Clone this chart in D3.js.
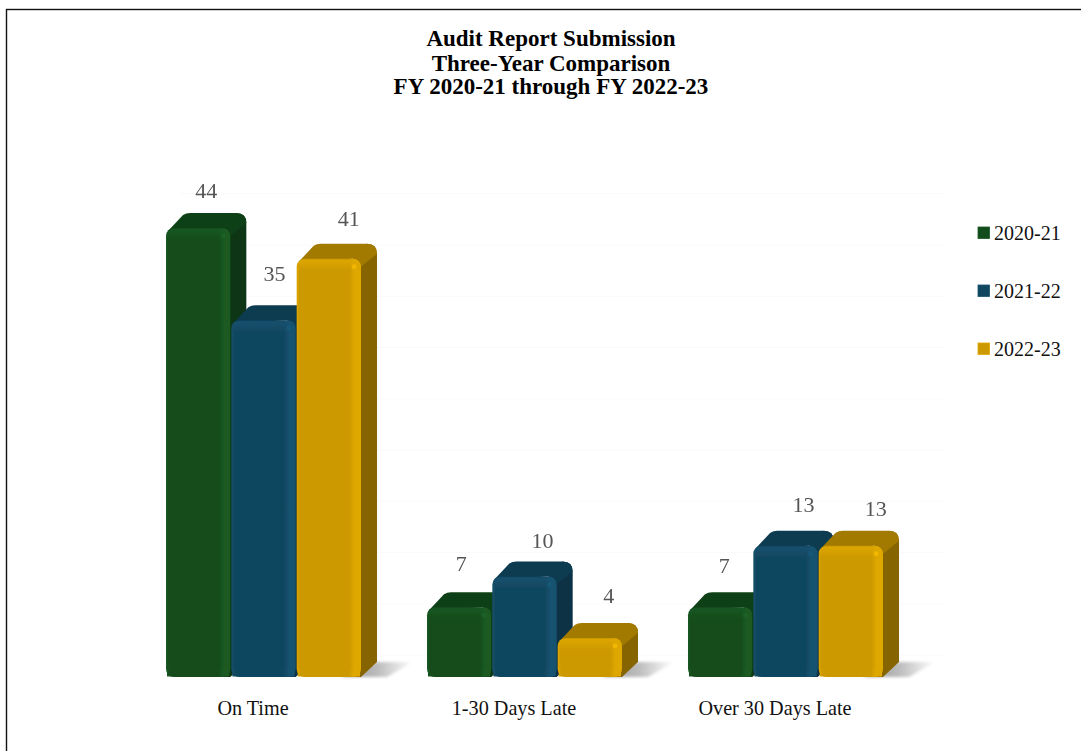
<!DOCTYPE html>
<html>
<head>
<meta charset="utf-8">
<script src="https://cdn.jsdelivr.net/npm/d3@7"></script>
<style>
  html, body { margin: 0; padding: 0; background: #fff; }
  svg { display: block; }
  text { font-family: "Liberation Serif", serif; }
</style>
</head>
<body>
<svg id="chart" width="1081" height="751"></svg>
<script>
const titleLines = ['Audit Report Submission', 'Three-Year Comparison', 'FY 2020-21 through FY 2022-23'];
const categories = ['On Time', '1-30 Days Late', 'Over 30 Days Late'];
const seriesNames = ['2020-21', '2021-22', '2022-23'];
const values2021 = [44, 7, 7];
const values2122 = [35, 10, 13];
const values2223 = [41, 4, 13];
const seriesValues = [values2021, values2122, values2223];

// front, top, side, highlight
const palette = [
  { front: '#134c1c', top: '#0f4016', side: '#0c3612', light: '#1a5a23' },
  { front: '#11465f', top: '#0c3a50', side: '#0a3044', light: '#175270' },
  { front: '#cc9900', top: '#a27a00', side: '#866500', light: '#dfa800' }
];

const depthX = 16, depthY = 15;
const floorY = 677;

const svg = d3.select('#chart');
const defs = svg.append('defs');

// the frame only shows on the top and left, the rest runs off the page
svg.append('rect')
  .attr('x', 6.5).attr('y', 9.5)
  .attr('width', 1200).attr('height', 900)
  .attr('fill', 'none')
  .attr('stroke', '#111')
  .attr('stroke-width', 1.4);

const x = d3.scaleBand()
  .domain(categories)
  .range([166, 884])
  .paddingInner(0.249);

const xInner = d3.scaleBand()
  .domain(d3.range(seriesNames.length))
  .range([0, x.bandwidth()]);

const y = d3.scaleLinear()
  .domain([0, 44])
  .range([679, 228]);

// faint gridlines
svg.append('g')
  .selectAll('line')
  .data(d3.range(0, 50, 5))
  .enter()
  .append('line')
  .attr('x1', 180).attr('x2', 945)
  .attr('y1', d => y(d) - 24).attr('y2', d => y(d) - 24)
  .attr('stroke', '#fafafa');

defs.append('filter').attr('id', 'soft')
  .append('feGaussianBlur').attr('stdDeviation', 0.5);
defs.append('filter').attr('id', 'shadowBlur')
  .attr('x', '-20%').attr('width', '140%').attr('y', '-30%').attr('height', '160%')
  .append('feGaussianBlur').attr('stdDeviation', 1.8);

const shadowGrad = defs.append('linearGradient').attr('id', 'shadowGrad');
shadowGrad.append('stop').attr('offset', '0').attr('stop-color', '#999');
shadowGrad.append('stop').attr('offset', '0.5').attr('stop-color', '#bbb');
shadowGrad.append('stop').attr('offset', '1').attr('stop-color', '#fff');

palette.forEach((c, i) => {
  const g = defs.append('linearGradient').attr('id', 'front' + i);
  g.append('stop').attr('offset', '0').attr('stop-color', c.light);
  g.append('stop').attr('offset', '0.04').attr('stop-color', c.front);
  g.append('stop').attr('offset', '0.82').attr('stop-color', c.front);
  g.append('stop').attr('offset', '0.9').attr('stop-color', c.light);
  g.append('stop').attr('offset', '1').attr('stop-color', c.light);
  const v = defs.append('linearGradient').attr('id', 'cap' + i)
    .attr('x1', 0).attr('x2', 0).attr('y1', 0).attr('y2', 1);
  v.append('stop').attr('offset', '0').attr('stop-color', c.light).attr('stop-opacity', 0.9);
  v.append('stop').attr('offset', '1').attr('stop-color', c.light).attr('stop-opacity', 0);
});

const groups = svg.selectAll('g.group')
  .data(categories)
  .enter()
  .append('g')
  .attr('class', 'group')
  .attr('transform', d => `translate(${x(d)}, 0)`);

const w = xInner.bandwidth() - 1;

// floor shadow behind the last bar
groups.append('path')
  .attr('d', () => {
    const r = xInner(2) + w;
    return `M${r - 20},${floorY} L${r + depthX},${floorY - depthY} L${r + depthX + 36},${floorY - depthY} L${r + 26},${floorY} Z`;
  })
  .attr('fill', 'url(#shadowGrad)')
  .attr('filter', 'url(#shadowBlur)');

const bars = groups.selectAll('g.bar')
  .data((d, i) => seriesValues.map((s, k) => ({ k, i, v: s[i] })))
  .enter()
  .append('g')
  .attr('class', 'bar')
  .attr('transform', d => `translate(${xInner(d.k)}, 0)`)
  .attr('filter', 'url(#soft)');

// side face
bars.append('path')
  .attr('d', d => {
    const t = y(d.v);
    return `M${w - 8},${t} L${w + depthX - 10},${t - depthY} Q${w + depthX},${t - depthY} ${w + depthX},${t - depthY + 10}
      L${w + depthX},${floorY - depthY} L${w},${floorY} L${w - 8},${floorY} Z`;
  })
  .attr('fill', d => palette[d.k].side);

// top face
bars.append('path')
  .attr('d', d => {
    const t = y(d.v);
    return `M2,${t + 3} L${depthX + 1},${t - depthY + 2} Q${depthX + 4},${t - depthY} ${depthX + 8},${t - depthY}
      L${w + depthX - 10},${t - depthY} Q${w + depthX},${t - depthY} ${w + depthX},${t - depthY + 10}
      L${w},${t + 8} Q${w - 1},${t + 1} ${w - 8},${t} Z`;
  })
  .attr('fill', d => palette[d.k].top);

// front face
bars.append('rect')
  .attr('x', 0)
  .attr('y', d => y(d.v))
  .attr('width', w)
  .attr('height', d => floorY - y(d.v))
  .attr('rx', 8)
  .attr('ry', 8)
  .attr('fill', d => `url(#front${d.k})`);

// square off the bottom corners a bit
bars.append('rect')
  .attr('x', 1)
  .attr('y', floorY - 8)
  .attr('width', w - 2)
  .attr('height', 7.5)
  .attr('fill', d => `url(#front${d.k})`);

// lighter band along the top edge
bars.append('rect')
  .attr('x', 1)
  .attr('y', d => y(d.v) + 1)
  .attr('width', w - 2)
  .attr('height', 11)
  .attr('rx', 6)
  .attr('fill', d => `url(#cap${d.k})`);

// small glint at the top right of the front
bars.append('circle')
  .attr('cx', w - 7)
  .attr('cy', d => y(d.v) + 8)
  .attr('r', 2.4)
  .attr('fill', d => d3.color(palette[d.k].light).brighter(0.4))
  .attr('opacity', 0.6);

// value labels sit a bit unevenly over the bars in the original
const labelDx = [[0, -6, -4], [3, 10, 10], [12, 11, 17]];
const labelDy = [[-30, -36, -34], [-39, -29, -34], [-33, -35, -30]];

bars.append('text')
  .attr('x', (w + depthX) / 2)
  .attr('y', d => y(d.v))
  .attr('dx', d => labelDx[d.k][d.i])
  .attr('dy', d => labelDy[d.k][d.i])
  .attr('text-anchor', 'middle')
  .attr('font-size', 22)
  .attr('fill', '#555')
  .text(d => d.v);

// category labels
svg.append('g')
  .selectAll('text')
  .data(categories)
  .enter()
  .append('text')
  .attr('x', d => x(d) + 87)
  .attr('y', 715)
  .attr('text-anchor', 'middle')
  .attr('font-size', 20.2)
  .attr('fill', '#111')
  .text(d => d);

// title
svg.append('g')
  .selectAll('text')
  .data(titleLines)
  .enter()
  .append('text')
  .attr('x', 551)
  .attr('y', (d, i) => [46, 71, 94][i])
  .attr('text-anchor', 'middle')
  .attr('font-size', 23)
  .attr('font-weight', 'bold')
  .attr('fill', '#000')
  .text(d => d);

// legend
const legendY = d3.scalePoint().domain(seriesNames).range([233, 349]);

const legend = svg.selectAll('g.legend')
  .data(seriesNames)
  .enter()
  .append('g')
  .attr('class', 'legend')
  .attr('transform', d => `translate(978, ${legendY(d)})`);

legend.append('rect')
  .attr('x', 0).attr('y', -6)
  .attr('width', 11.5).attr('height', 11.5)
  .attr('fill', (d, i) => palette[i].front)
  .attr('stroke', (d, i) => palette[i].light)
  .attr('stroke-width', 0.8);

legend.append('text')
  .attr('x', 16)
  .attr('y', 7)
  .attr('font-size', 20)
  .attr('fill', '#111')
  .text(d => d);
</script>
</body>
</html>
